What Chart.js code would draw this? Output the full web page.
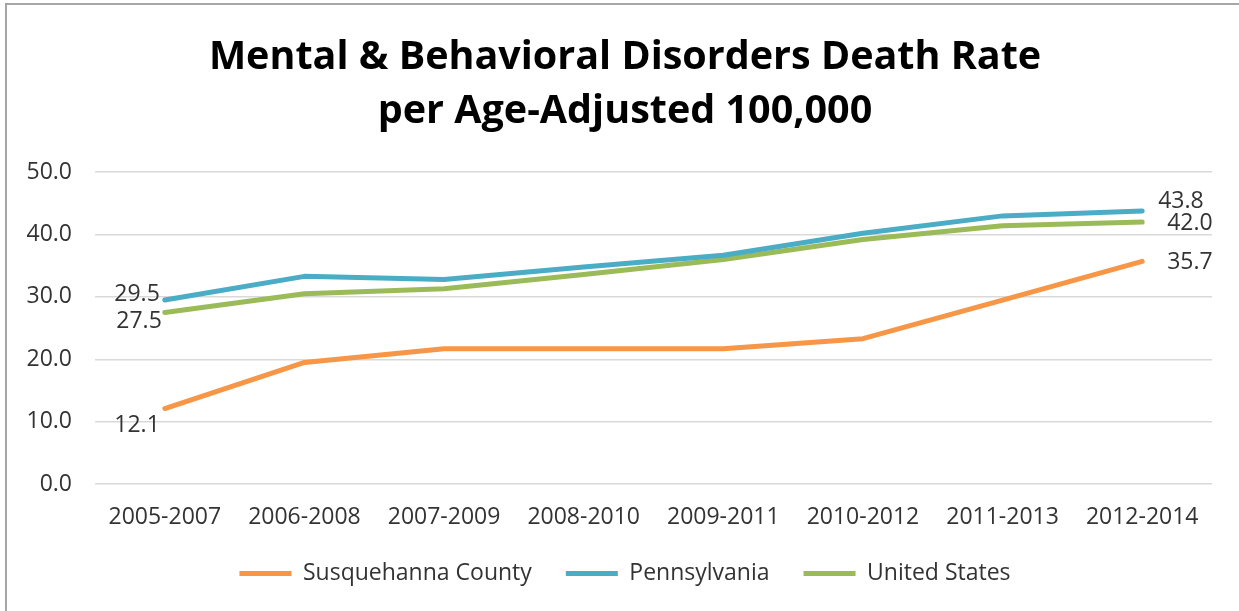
<!DOCTYPE html>
<html>
<head>
<meta charset="utf-8">
<script src="https://cdn.jsdelivr.net/npm/chart.js@4.4.0/dist/chart.umd.min.js"></script>
<style>
  html, body { margin: 0; padding: 0; background: #fff; }
  #wrap { position: relative; width: 1239px; height: 611px; }
  #frame { position: absolute; left: 5px; top: 3px; right: 0; bottom: 0; border-left: 2px solid #a6a6a6; border-top: 2px solid #a6a6a6; pointer-events: none; }
</style>
</head>
<body>
<div id="wrap"><canvas id="myChart"></canvas><div id="frame"></div></div>
<script>
const periods = ['2005-2007', '2006-2008', '2007-2009', '2008-2010', '2009-2011', '2010-2012', '2011-2013', '2012-2014'];
const susquehanna = [12.1, 19.5, 21.7, 21.7, 21.7, 23.3, 29.5, 35.7];
const pennsylvania = [29.5, 33.3, 32.8, 34.8, 36.7, 40.2, 43.0, 43.8];
const unitedStates = [27.5, 30.5, 31.3, 33.6, 36.0, 39.2, 41.4, 42.0];
const yTicks = [0, 10, 20, 30, 40, 50];

const FONT = "'Open Sans', 'Liberation Sans', sans-serif";
const TXT = '#333333';

// end labels: [dx, dy, align] for first and last point of each series
const endLabels = [
  { first: [-5, 17, 'right'], last: [25, 1, 'left'] },
  { first: [-5, -6, 'right'], last: [16, -9, 'left'] },
  { first: [-3, 9, 'right'], last: [25, 1, 'left'] }
];

const endLabelPlugin = {
  id: 'endLabels',
  afterDatasetsDraw(chart) {
    const ctx = chart.ctx;
    ctx.save();
    ctx.font = '23px ' + FONT;
    ctx.fillStyle = TXT;
    ctx.textBaseline = 'middle';
    chart.data.datasets.forEach((ds, i) => {
      const pts = chart.getDatasetMeta(i).data;
      const cfg = endLabels[i];
      [[pts[0], ds.data[0], cfg.first], [pts[pts.length - 1], ds.data[ds.data.length - 1], cfg.last]].forEach(([p, v, o]) => {
        ctx.textAlign = o[2];
        ctx.fillText(v.toFixed(1), p.x + o[0], p.y + o[1]);
      });
    });
    ctx.restore();
  }
};

// title and legend are centred on the whole picture, not on the box left of the right padding
const centreBlocks = {
  id: 'centreBlocks',
  afterLayout(chart) {
    [chart.titleBlock, chart.legend].forEach(b => {
      if (b) { b.left = 38; b.width = b.right - b.left; }
    });
  }
};

const mk = (label, data, color) => ({
  label: label,
  data: data,
  borderColor: color,
  backgroundColor: color,
  borderWidth: 5,
  pointRadius: 0,
  tension: 0,
  borderCapStyle: 'round',
  borderJoinStyle: 'round'
});

new Chart(document.getElementById('myChart'), {
  type: 'line',
  data: {
    labels: periods,
    datasets: [
      mk('Susquehanna County', susquehanna, '#F79646'),
      mk('Pennsylvania', pennsylvania, '#4BACC6'),
      mk('United States', unitedStates, '#9BBB59')
    ]
  },
  options: {
    responsive: true,
    maintainAspectRatio: false,
    animation: false,
    layout: { padding: { left: 0, right: 27, top: 0, bottom: 16 } },
    plugins: {
      title: {
        display: true,
        text: ['Mental & Behavioral Disorders Death Rate', 'per Age-Adjusted 100,000'],
        color: '#000',
        font: { family: FONT, size: 39.5, weight: 'bold', lineHeight: 1.37 },
        padding: { top: 31, bottom: 33 }
      },
      legend: {
        position: 'bottom',
        labels: {
          color: TXT,
          font: { family: FONT, size: 23 },
          usePointStyle: true,
          pointStyle: 'line',
          pointStyleWidth: 52,
          padding: 34
        }
      },
      tooltip: { enabled: false }
    },
    scales: {
      x: {
        offset: true,
        afterFit: (s) => { s.height = 44; },
        grid: { display: false, drawTicks: false },
        border: { display: false },
        ticks: { color: TXT, font: { family: FONT, size: 23 }, padding: 20, maxRotation: 0 }
      },
      y: {
        min: 0,
        max: 50,
        afterFit: (s) => { s.width = 95; },
        afterBuildTicks: (s) => { s.ticks = yTicks.map(v => ({ value: v })); },
        grid: { color: '#d9d9d9', lineWidth: 1.5, drawTicks: false },
        border: { display: false },
        ticks: {
          color: TXT,
          font: { family: FONT, size: 23 },
          padding: 23,
          callback: (v) => Number(v).toFixed(1)
        }
      }
    }
  },
  plugins: [endLabelPlugin, centreBlocks]
});
</script>
</body>
</html>
